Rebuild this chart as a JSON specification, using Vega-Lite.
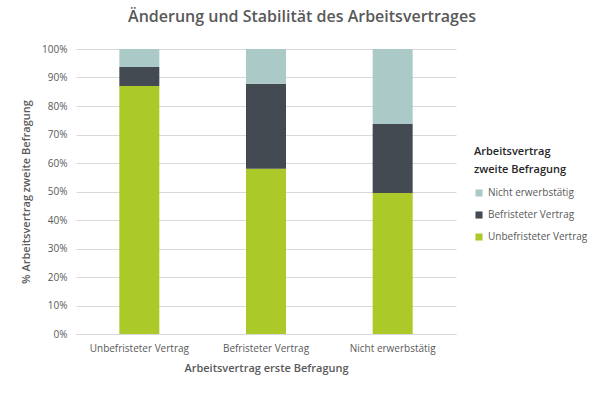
{
  "$schema": "https://vega.github.io/schema/vega-lite/v6.json",
  "width": 380,
  "height": 285,
  "autosize": {"type": "none"},
  "padding": {"left": 76, "top": 49, "right": 150, "bottom": 61},
  "background": "white",
  "title": {
    "text": "Änderung und Stabilität des Arbeitsvertrages",
    "font": "Open Sans",
    "fontSize": 16,
    "fontWeight": 600,
    "color": "#595959",
    "anchor": "middle",
    "frame": "group",
    "dx": 36,
    "offset": 19
  },
  "data": {
    "values": [
      {"erste": "Unbefristeter Vertrag", "zweite": "Unbefristeter Vertrag", "pct": 87, "ord": 1},
      {"erste": "Unbefristeter Vertrag", "zweite": "Befristeter Vertrag", "pct": 6.7, "ord": 2},
      {"erste": "Unbefristeter Vertrag", "zweite": "Nicht erwerbstätig", "pct": 6.3, "ord": 3},
      {"erste": "Befristeter Vertrag", "zweite": "Unbefristeter Vertrag", "pct": 58, "ord": 1},
      {"erste": "Befristeter Vertrag", "zweite": "Befristeter Vertrag", "pct": 29.8, "ord": 2},
      {"erste": "Befristeter Vertrag", "zweite": "Nicht erwerbstätig", "pct": 12.2, "ord": 3},
      {"erste": "Nicht erwerbstätig", "zweite": "Unbefristeter Vertrag", "pct": 49.5, "ord": 1},
      {"erste": "Nicht erwerbstätig", "zweite": "Befristeter Vertrag", "pct": 24.2, "ord": 2},
      {"erste": "Nicht erwerbstätig", "zweite": "Nicht erwerbstätig", "pct": 26.3, "ord": 3}
    ]
  },
  "mark": {"type": "bar", "width": 40},
  "encoding": {
    "x": {
      "field": "erste",
      "type": "nominal",
      "sort": ["Unbefristeter Vertrag", "Befristeter Vertrag", "Nicht erwerbstätig"],
      "scale": {"paddingInner": 0, "paddingOuter": 0},
      "axis": {
        "title": "Arbeitsvertrag erste Befragung",
        "titleFont": "Open Sans",
        "titleFontSize": 11,
        "titleFontWeight": 600,
        "titleColor": "#595959",
        "titlePadding": 9,
        "labelAngle": 0,
        "labelFont": "Open Sans",
        "labelFontSize": 10,
        "labelColor": "#595959",
        "labelPadding": 9,
        "ticks": false,
        "domainColor": "#d9d9d9",
        "grid": false
      }
    },
    "y": {
      "field": "pct",
      "type": "quantitative",
      "stack": "normalize",
      "scale": {"domain": [0, 1]},
      "axis": {
        "title": "% Arbeitsvertrag zweite Befragung",
        "titleFont": "Open Sans",
        "titleFontSize": 11,
        "titleFontWeight": 600,
        "titleColor": "#595959",
        "titlePadding": 10,
        "format": ".0%",
        "values": [0, 0.1, 0.2, 0.3, 0.4, 0.5, 0.6, 0.7, 0.8, 0.9, 1],
        "labelFont": "Open Sans",
        "labelFontSize": 10,
        "labelColor": "#595959",
        "labelPadding": 9,
        "ticks": false,
        "domain": false,
        "gridColor": "#d9d9d9"
      }
    },
    "color": {
      "field": "zweite",
      "type": "nominal",
      "scale": {
        "domain": ["Nicht erwerbstätig", "Befristeter Vertrag", "Unbefristeter Vertrag"],
        "range": ["#abc9c7", "#434a51", "#acc92a"]
      },
      "legend": {
        "title": ["Arbeitsvertrag", "zweite Befragung"],
        "titleFont": "Open Sans",
        "titleFontSize": 11,
        "titleFontWeight": 600,
        "titleColor": "#262626",
        "titleLineHeight": 18,
        "titlePadding": 13,
        "labelFont": "Open Sans",
        "labelFontSize": 10,
        "labelColor": "#595959",
        "symbolType": "square",
        "symbolSize": 50,
        "symbolStrokeWidth": 0,
        "rowPadding": 12,
        "orient": "none",
        "legendX": 398,
        "legendY": 97
      }
    },
    "order": {"field": "ord", "type": "quantitative", "sort": "ascending"}
  },
  "config": {"view": {"stroke": null}}
}
